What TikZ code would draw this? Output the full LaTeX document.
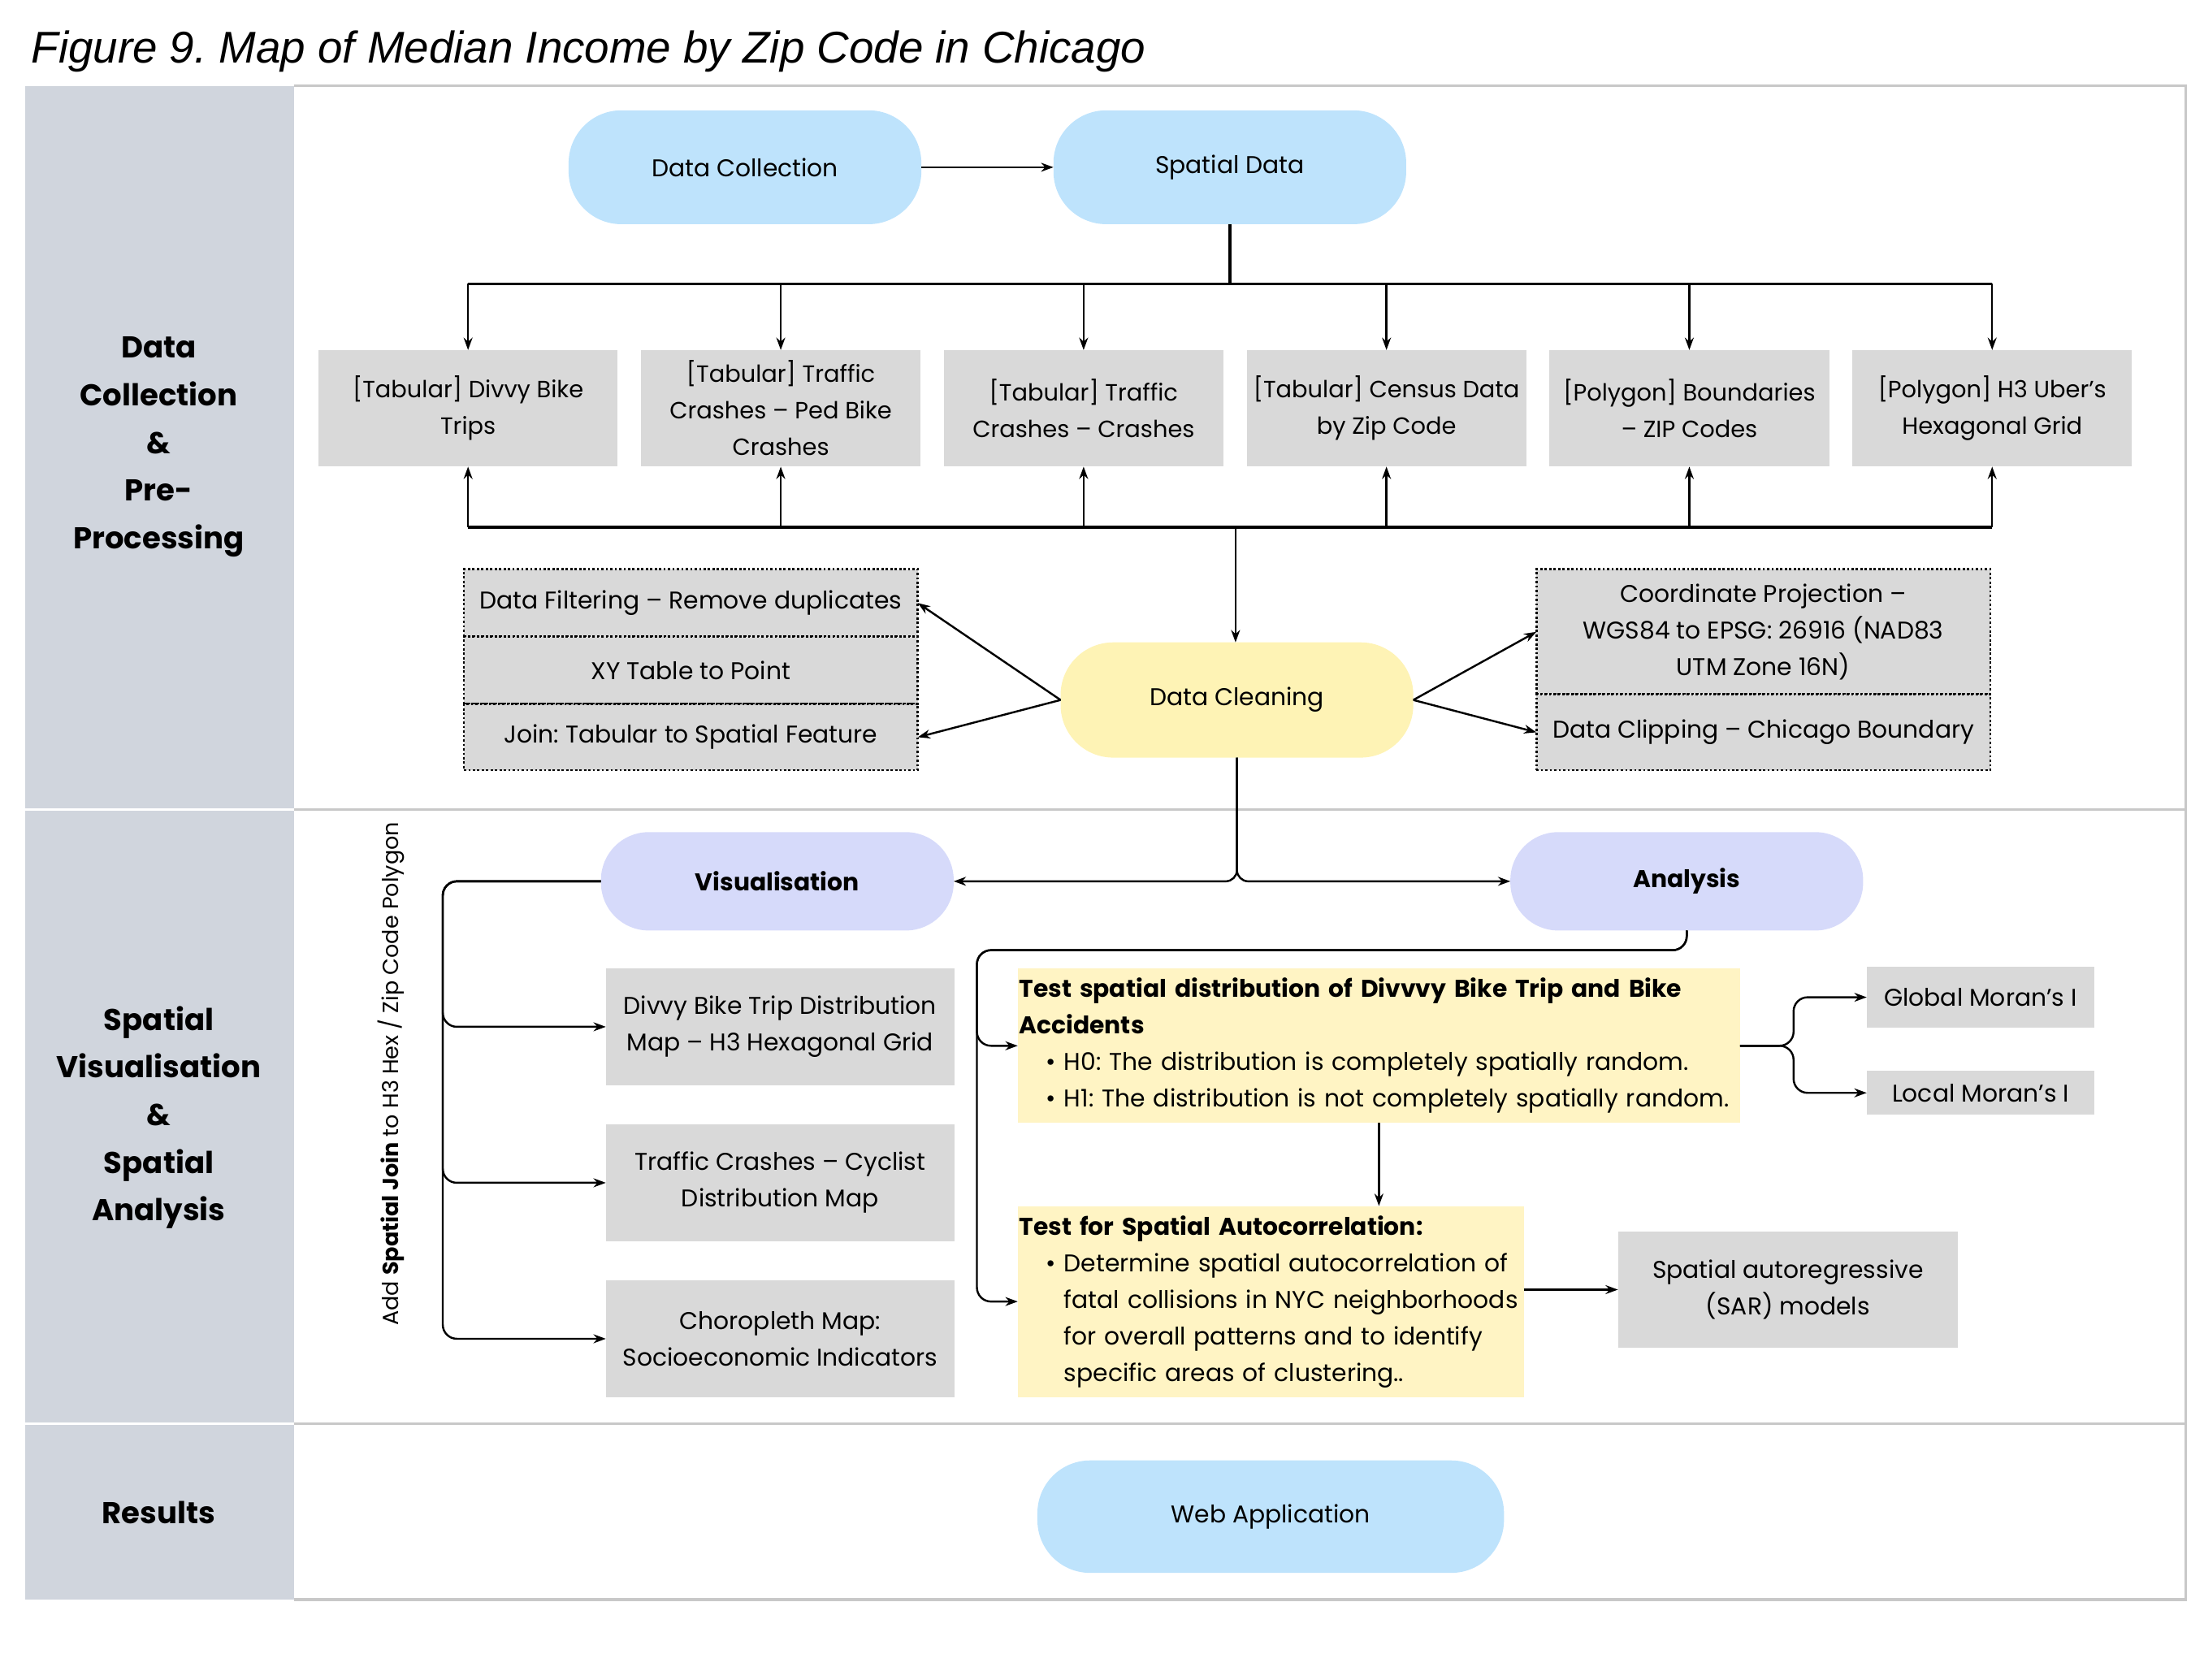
\documentclass[tikz,border=0pt]{standalone}
\usepackage{fontspec}
\setmainfont{Poppins}
\newfontfamily\titlefont{Liberation Sans}
\usepackage{xcolor}
\definecolor{PillBlue}{RGB}{190,227,252}
\definecolor{PillLilac}{RGB}{214,218,250}
\definecolor{PillYellow}{RGB}{254,243,181}
\definecolor{NoteYellow}{RGB}{255,244,196}
\definecolor{BoxGray}{RGB}{217,217,217}
\definecolor{LaneGray}{RGB}{208,213,221}
\definecolor{RuleGray}{RGB}{200,200,200}
\usetikzlibrary{arrows.meta, positioning, calc}
\frenchspacing
\tikzset{
  % Rounded pill
  pill/.style={
    rectangle, rounded corners=0.75cm,
    draw=none, fill=PillBlue,
    align=center,
    minimum width=5.02cm, minimum height=1.62cm,
    font=\fontsize{9.8}{14.8}\selectfont,
    inner sep=2pt, outer sep=0pt
  },
  pill lilac/.style={pill, fill=PillLilac, minimum height=1.4cm,
    rounded corners=0.68cm, font=\fontsize{9.8}{14.8}\selectfont\bfseries},
  pill yellow/.style={pill, fill=PillYellow, minimum height=1.64cm},
  % Grey data box
  gbox/.style={
    rectangle, fill=BoxGray, draw=none,
    align=center, inner sep=2pt, outer sep=0pt,
    minimum width=3.98cm, minimum height=1.66cm,
    font=\fontsize{9.8}{14.8}\selectfont
  },
  % Source data box (top row)
  srcbox/.style={gbox, inner sep=1pt, font=\fontsize{9.5}{14.8}\selectfont},
  % Dotted processing cell
  dotcell/.style={gbox, draw=black, dash pattern=on 0.9pt off 0.9pt,
    line width=0.9pt, minimum width=6.46cm},
  % Yellow note
  ynote/.style={
    rectangle, fill=NoteYellow, align=left,
    inner xsep=0.02cm, inner ysep=2pt, outer sep=0pt,
    font=\fontsize{9.8}{14.8}\selectfont
  },
  % Lane title
  lane/.style={align=center, font=\fontsize{12.2}{19.3}\selectfont\bfseries},
  % Arrows
  arr/.style={-{Stealth[length=5pt,width=3.6pt]}, line width=0.8pt},
  bus/.style={line width=1.3pt},
}
\newcommand{\bitem}[1]{\hspace*{0.38cm}\makebox[0.26cm][l]{\textbullet}#1}
\newcommand{\bcont}[1]{\hspace*{0.64cm}#1}

\begin{document}
\begin{tikzpicture}[x=0.02cm, y=-0.02cm]
  \useasboundingbox (0,0) rectangle (1568,1195);

  %% ---- TITLE ----
  \node[anchor=base west, inner sep=0pt,
        font=\titlefont\itshape\fontsize{18}{21}\selectfont] (title) at (22,45)
    {Figure 9. Map of Median Income by Zip Code in Chicago};

  %% ---- LANES ----
  \fill[LaneGray] (18,61) rectangle (209,1138);
  \draw[white, line width=1pt] (18,576) -- (209,576) (18,1013) -- (209,1013);
  \draw[RuleGray, line width=1.1pt] (209,61) -- (1555,61) -- (1555,1138) -- (209,1138);
  \draw[RuleGray, line width=1.1pt] (209,576) -- (1555,576) (209,1013) -- (1555,1013);

  \node[lane] (lane1) at (113,318) {Data\\Collection\\\&\\Pre-\\Processing};
  \node[lane] (lane2) at (113,795) {Spatial\\Visualisation\\\&\\Spatial\\Analysis};
  \node[lane] (lane3) at (113,1076) {Results};

  %% ---- DATA COLLECTION ----
  \node[pill] (dcoll) at (530,119) {Data Collection};
  \node[pill, right=1.88cm of dcoll] (sdata) {Spatial Data};

  \node[srcbox, minimum width=4.26cm] (tdivvy) at (333,290.5) {[Tabular] Divvy Bike\\Trips};
  \node[srcbox, right=0.33cm of tdivvy] (tped) {[Tabular] Traffic\\Crashes – Ped Bike\\Crashes};
  \node[srcbox, right=0.33cm of tped] (tcrash) {[Tabular] Traffic\\Crashes – Crashes};
  \node[srcbox, right=0.33cm of tcrash] (tcensus) {[Tabular] Census Data\\by Zip Code};
  \node[srcbox, right=0.33cm of tcensus] (pzip) {[Polygon] Boundaries\\– ZIP Codes};
  \node[srcbox, right=0.33cm of pzip] (ph3) {[Polygon] H3 Uber’s\\Hexagonal Grid};

  \node[pill yellow] (dclean) at (880,498) {Data Cleaning};

  %% Pre-processing steps
  \node[dotcell, minimum height=0.96cm] (filt) at (491.5,429) {Data Filtering – Remove duplicates};
  \node[dotcell, minimum height=0.96cm, below=0cm of filt] (xyp) {XY Table to Point};
  \node[dotcell, minimum height=0.94cm, below=0cm of xyp] (join) {Join: Tabular to Spatial Feature};
  \node[dotcell, minimum height=1.78cm] (proj) at (1254.5,449.5)
    {Coordinate Projection –\\WGS84 to EPSG: 26916 (NAD83\\UTM Zone 16N)};
  \node[dotcell, minimum height=1.08cm, below=0cm of proj] (clip) {Data Clipping – Chicago Boundary};

  %% Buses
  \coordinate (bustop) at (876,202);
  \coordinate (busbot) at (879,375);
  \draw[arr] (dcoll) -- (sdata);
  \draw[bus] (sdata.south) -- (sdata.south |- bustop);
  \draw[bus] (tdivvy.north |- bustop) -- (ph3.north |- bustop);
  \draw[bus] (tdivvy.south |- busbot) -- (ph3.south |- busbot);
  \foreach \b in {tdivvy, tped, tcrash, tcensus, pzip, ph3}{
    \draw[arr] (\b.north |- bustop) -- (\b.north);
    \draw[arr] (\b.south |- busbot) -- (\b.south);
  }
  \draw[arr] (busbot) -- (busbot |- dclean.north);

  \draw[arr] (dclean.west) -- (filt.east);
  \draw[arr] (dclean.west) -- (join.east);
  \draw[arr] (dclean.east) -- (proj.west);
  \draw[arr] (dclean.east) -- (clip.west);

  %% ---- VISUALISATION & ANALYSIS ----
  \node[pill lilac] (vis) at (553,627) {Visualisation};
  \node[pill lilac] (anl) at (1200,627) {Analysis};
  \draw[arr, rounded corners=0.16cm] (dclean.south) |- (vis.east);
  \draw[arr, rounded corners=0.16cm] (dclean.south) |- (anl.west);

  \node[rotate=90, font=\fontsize{8.9}{10}\selectfont] (sjoin) at (278,764)
    {Add \textbf{Spatial Join} to H3 Hex / Zip Code Polygon};

  \node[gbox, minimum width=4.96cm] (vdivvy) at (555,730.5)
    {Divvy Bike Trip Distribution\\Map – H3 Hexagonal Grid};
  \node[gbox, minimum width=4.96cm, below=0.56cm of vdivvy] (vcyc)
    {Traffic Crashes – Cyclist\\Distribution Map};
  \node[gbox, minimum width=4.96cm, below=0.56cm of vcyc] (vchoro)
    {Choropleth Map:\\Socioeconomic Indicators};
  \coordinate (vrail) at (315,627);
  \foreach \v in {vdivvy, vcyc, vchoro}
    \draw[arr, rounded corners=0.2cm] (vis.west) -| (vrail |- \v.west) -- (\v.west);

  \node[ynote, text width=10.24cm, minimum height=2.2cm] (tdist) at (981,744)
    {{\bfseries Test spatial distribution of Divvvy Bike Trip and Bike\\Accidents}\\
     \bitem{H0: The distribution is completely spatially random.}\\
     \bitem{H1: The distribution is not completely spatially random.}};
  \node[ynote, text width=7.16cm, minimum height=2.72cm,
        below=1.18cm of tdist.south west, anchor=north west] (tauto)
    {{\bfseries Test for Spatial Autocorrelation:}\\
     \bitem{Determine spatial autocorrelation of}\\
     \bcont{fatal collisions in NYC neighborhoods}\\
     \bcont{for overall patterns and to identify}\\
     \bcont{specific areas of clustering..}};

  \coordinate (arail) at (695,676);
  \foreach \t in {tdist, tauto}
    \draw[arr, rounded corners=0.2cm] (anl.south) |- (arail) |- (\t.west);
  \draw[arr] (tdist.south) -- (tdist.south |- tauto.north);

  \node[gbox, minimum width=3.24cm, minimum height=0.86cm] (gmoran) at (1409,709.5) {Global Moran’s I};
  \node[gbox, minimum width=3.24cm, minimum height=0.62cm] (lmoran) at (1409,777.5) {Local Moran’s I};
  \coordinate (mrail) at (1276,744);
  \foreach \m in {gmoran, lmoran}
    \draw[arr, rounded corners=0.2cm] (tdist.east) -- (mrail) |- (\m.west);

  \node[gbox, minimum width=4.84cm] (sar) at (1272,917.5) {Spatial autoregressive\\(SAR) models};
  \draw[arr] (sar.west -| tauto.east) -- (sar.west);

  %% ---- RESULTS ----
  \node[pill, minimum width=6.64cm, minimum height=1.6cm] (webapp) at (904,1079) {Web Application};

\end{tikzpicture}
\end{document}
